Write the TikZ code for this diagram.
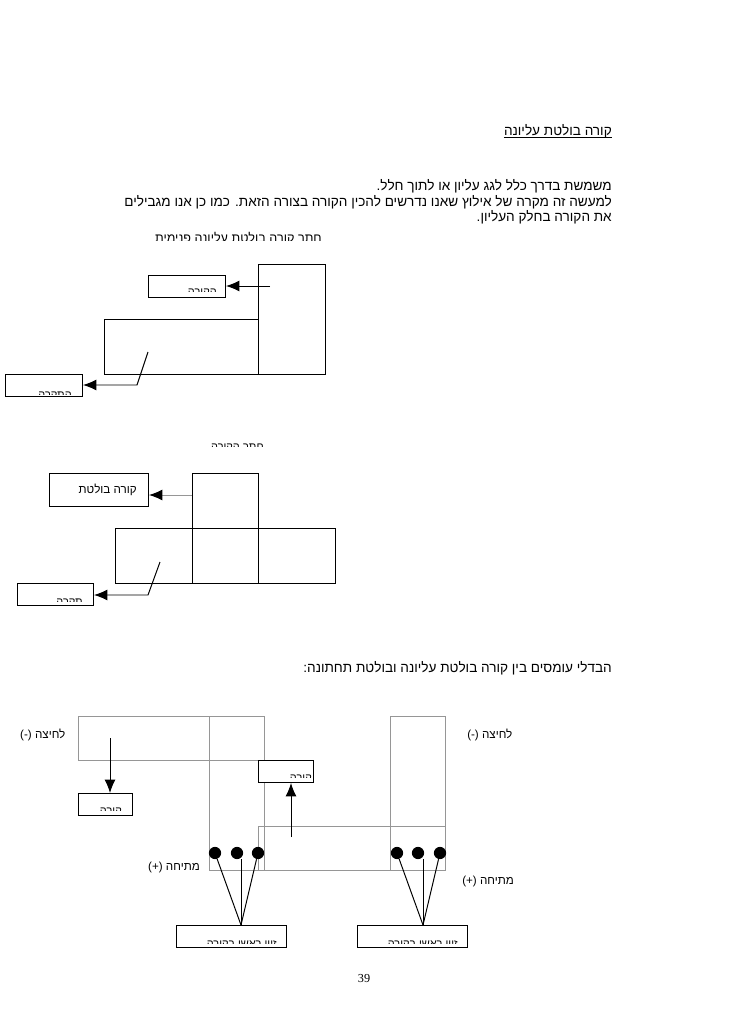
\documentclass[tikz,border=0pt]{standalone}
\usepackage{fontspec}
\setmainfont{Liberation Sans}
\newfontfamily\hebfont[Script=Hebrew]{Liberation Sans}
\newfontfamily\numfont{Liberation Serif}
\TeXXeTstate=1
\usetikzlibrary{arrows.meta,positioning}
\definecolor{beamgray}{RGB}{150,150,150}
\newcommand{\heb}[1]{{\hebfont\beginR #1\endR}}

\begin{document}
\begin{tikzpicture}[x=0.8173pt, y=-0.8173pt,
  txt/.style={inner sep=0pt, font=\hebfont\fontsize{11.1}{13}\selectfont},
  small/.style={inner sep=0pt, font=\hebfont\fontsize{9.5}{11}\selectfont},
  cut/.style={inner sep=0pt, anchor=base east, font=\hebfont\fontsize{9}{10}\selectfont},
  box/.style={draw, thick, inner sep=0pt, anchor=north west},
  arr/.style={-{Latex[length=11pt,width=9pt,color=black]}, thick},
  gline/.style={draw=beamgray, thick},
  dot/.style={circle, fill, inner sep=0pt, minimum size=10pt}]

\useasboundingbox (0,0) rectangle (728,1030);

% title and text
\node[txt, anchor=base east] (title) at (612,135) {\heb{קורה בולטת עליונה}};
\draw ([yshift=-2pt]title.base west) -- ([yshift=-2pt]title.base east);
\node[txt, anchor=base east] (p1) at (612,190) {\heb{משמשת בדרך כלל לגג עליון או לתוך חלל.}};
\node[txt, anchor=base east] (p2) at (612,206) {\heb{למעשה זה מקרה של אילוץ שאנו נדרשים להכין הקורה בצורה הזאת. כמו כן אנו מגבילים}};
\node[txt, anchor=base east] (p3) at (612,221) {\heb{את הקורה בחלק העליון.}};

% section 1 (caption cut off)
\begin{scope}
  \clip (100,226) rectangle (340,240);
  \node[cut, font=\hebfont\fontsize{10.3}{12}\selectfont] (cap1) at (322,242) {\heb{חתך קורה בולטת עליונה פנימית}};
\end{scope}

\draw[thick] (258,264) rectangle (325,374);
\draw[thick] (104,319) rectangle (258,374);

\node[box, minimum width=77*0.8173pt, minimum height=22*0.8173pt] (lab1) at (148,275) {};
\begin{scope}
  \clip (lab1.north west) rectangle (lab1.east |- 0,291.5);
  \node[cut] (t1) at (217,295.5) {\heb{הקורה}};
\end{scope}
\coordinate (s1) at (270,286);
\draw[arr] (s1) -- (lab1.east |- s1);

\node[box, minimum width=77*0.8173pt, minimum height=22*0.8173pt] (lab2) at (5,374) {};
\begin{scope}
  \clip (lab2.north west) rectangle (lab2.east |- 0,394.5);
  \node[cut] (t2) at (72,398.5) {\heb{התקרה}};
\end{scope}
\coordinate (s2) at (148,352);
\coordinate (k2) at (137,385);
\draw[arr] (s2) -- (k2) -- (lab2.east |- k2);

% section 2
\begin{scope}
  \clip (180,436) rectangle (300,446.5);
  \node[cut] (cap2) at (264,450.5) {\heb{חתך הקורה}};
\end{scope}

\draw[thick] (192,473) rectangle (258,528);
\draw[thick] (115,528) rectangle (335,583);
\draw[thick] (192,528) -- (192,583);
\draw[thick] (258,528) -- (258,583);

\node[box, minimum width=99*0.8173pt, minimum height=33*0.8173pt] (lab3) at (49,473) {};
\node[small, anchor=east] (t3) at (137,490) {\heb{קורה בולטת}};
\coordinate (s3) at (192,495);
\draw[arr, draw=beamgray] (s3) -- (lab3.east |- s3);

\node[box, minimum width=76*0.8173pt, minimum height=22*0.8173pt] (lab4) at (17,583) {};
\begin{scope}
  \clip (lab4.north west) rectangle (lab4.east |- 0,601.5);
  \node[cut] (t4) at (83,605.5) {\heb{תקרה}};
\end{scope}
\coordinate (s4) at (160,562);
\coordinate (k4) at (148,595);
\draw[arr] (s4) -- (k4) -- (lab4.east |- k4);

% loads
\node[txt, anchor=base east] (head) at (612,672) {\heb{הבדלי עומסים בין קורה בולטת עליונה ובולטת תחתונה:}};

\draw[gline] (78,716) rectangle (264,760);
\draw[gline] (209,716) rectangle (264,870);
\draw[gline] (258,826) rectangle (445,870);
\draw[gline] (390,716) rectangle (445,870);

\node[small, anchor=base west] (cmpL) at (20,738) {(-) \heb{לחיצה}};
\node[small, anchor=base west] (cmpR) at (467,738) {(-) \heb{לחיצה}};
\node[small, anchor=base west] (tenL) at (148,870) {(+) \heb{מתיחה}};
\node[small, anchor=base west] (tenR) at (462,884) {(+) \heb{מתיחה}};

\node[box, minimum width=54*0.8173pt, minimum height=22*0.8173pt] (lab5) at (78,793) {};
\begin{scope}
  \clip (lab5.north west) rectangle (lab5.east |- 0,810.5);
  \node[cut] (t5) at (122,814.5) {\heb{קורה}};
\end{scope}
\coordinate (s5) at (110,738);
\draw[arr] (s5) -- (lab5.north -| s5);

\node[box, fill=white, minimum width=55*0.8173pt, minimum height=22*0.8173pt] (lab6) at (258,760) {};
\begin{scope}
  \clip (lab6.north west) rectangle (lab6.east |- 0,777.5);
  \node[cut] (t6) at (312,781.5) {\heb{קורה}};
\end{scope}
\coordinate (s6) at (291,837);
\draw[arr] (s6) -- (lab6.south -| s6);

% reinforcement bars
\node[dot] (dl1) at (215,853) {};
\node[dot] (dl2) at (237,853) {};
\node[dot] (dl3) at (258,853) {};
\node[dot] (dr1) at (397,853) {};
\node[dot] (dr2) at (418,853) {};
\node[dot] (dr3) at (440,853) {};

\node[box, minimum width=110*0.8173pt, minimum height=22*0.8173pt] (barL) at (176,925) {};
\node[box, minimum width=110*0.8173pt, minimum height=22*0.8173pt] (barR) at (357,925) {};
\begin{scope}
  \clip (barL.north west) rectangle (barL.east |- 0,943.5);
  \node[cut] (t7) at (277,947.5) {\heb{זיון ראשי בקורה}};
\end{scope}
\begin{scope}
  \clip (barR.north west) rectangle (barR.east |- 0,943.5);
  \node[cut] (t8) at (458,947.5) {\heb{זיון ראשי בקורה}};
\end{scope}
\coordinate (apL) at (241,925);
\coordinate (apR) at (423,925);
\draw[thick] (dl1) -- (apL);
\draw[thick] (dl2.south -| apL) -- (apL);
\draw[thick] (dl3) -- (apL);
\draw[thick] (dr1) -- (apR);
\draw[thick] (dr2.south -| apR) -- (apR);
\draw[thick] (dr3) -- (apR);

\node[inner sep=0pt, font=\numfont\fontsize{10}{12}\selectfont, anchor=base] (page) at (364,982) {39};

\end{tikzpicture}
\end{document}
